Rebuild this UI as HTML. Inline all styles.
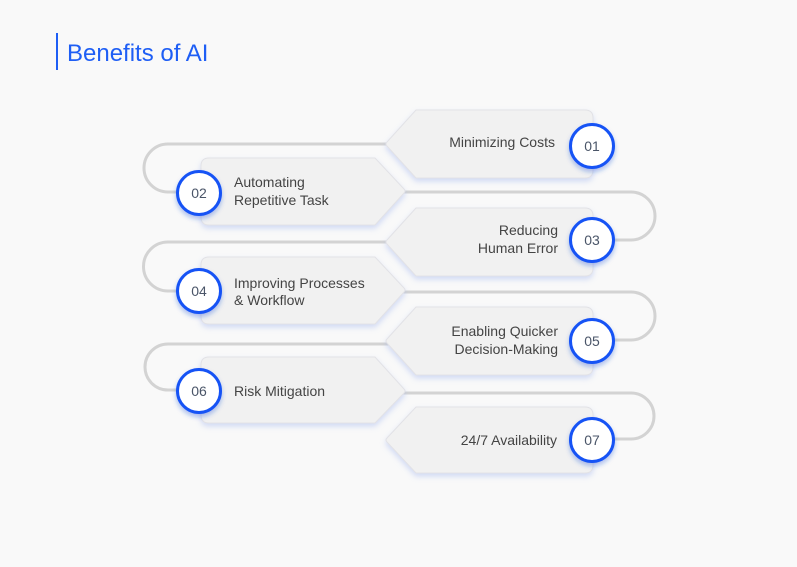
<!DOCTYPE html>
<html><head><meta charset="utf-8"><style>
html,body{margin:0;padding:0;background:#f9f9f9;}
body{width:797px;height:562px;overflow:hidden;font-family:"Liberation Sans",sans-serif;}
</style></head><body>
<svg width="797" height="562" viewBox="0 0 797 562" xmlns="http://www.w3.org/2000/svg" font-family="Liberation Sans, sans-serif">
<defs>
<filter id="sh" x="-20%" y="-20%" width="140%" height="160%"><feDropShadow dx="0" dy="3" stdDeviation="3" flood-color="#9fb4ee" flood-opacity="0.45"/></filter>
<filter id="cs" x="-40%" y="-40%" width="180%" height="180%"><feDropShadow dx="0" dy="3" stdDeviation="2.5" flood-color="#1a4fd8" flood-opacity="0.35"/></filter>
</defs>
<rect x="0" y="0" width="797" height="562" fill="#f9f9f9"/>
<rect x="56" y="33" width="2" height="37" fill="#1e5ef5"/>
<text x="67" y="61" font-size="24" fill="#1e5ef5">Benefits of AI</text>

<g fill="none" stroke="#d3d3d3" stroke-width="3">
<path d="M390 144 H168 A24 24 0 0 0 168 192 H200"/>
<path d="M400 192 H631 A24 24 0 0 1 631 240 H592"/>
<path d="M390 242 H168 A24 24 0 0 0 168 291 H200"/>
<path d="M400 292 H631 A24 24 0 0 1 631 340 H592"/>
<path d="M390 344 H168 A23 23 0 0 0 168 390 H200"/>
<path d="M400 393 H631 A23 23 0 0 1 631 439 H592"/>
</g>

<g fill="#f1f1f1" stroke="#e2e2e6" stroke-width="1" filter="url(#sh)">
<path d="M416 110 H585 Q593 110 593 118 V170 Q593 178 585 178 H416 L387 146 Q385 144 387 142 Z"/>
<path d="M209 158 H375 L404 189 Q406 191 404 193 L375 225 H209 Q201 225 201 217 V166 Q201 158 209 158 Z"/>
<path d="M416 208 H585 Q593 208 593 216 V268 Q593 276 585 276 H416 L387 244 Q385 242 387 240 Z"/>
<path d="M209 257 H375 L404 288 Q406 290 404 292 L375 324 H209 Q201 324 201 316 V265 Q201 257 209 257 Z"/>
<path d="M416 307 H585 Q593 307 593 315 V367 Q593 375 585 375 H416 L387 343 Q385 341 387 339 Z"/>
<path d="M209 357 H375 L404 389 Q406 391 404 393 L375 423 H209 Q201 423 201 415 V365 Q201 357 209 357 Z"/>
<path d="M416 407 H585 Q593 407 593 415 V465 Q593 473 585 473 H416 L387 442 Q385 440 387 438 Z"/>
</g>

<g font-size="14" fill="#444444">
<text x="555" y="147" text-anchor="end">Minimizing Costs</text>
<text x="234" y="187">Automating</text><text x="234" y="205">Repetitive Task</text>
<text x="558" y="235" text-anchor="end">Reducing</text><text x="558" y="253" text-anchor="end">Human Error</text>
<text x="234" y="288">Improving Processes</text><text x="234" y="305">&amp; Workflow</text>
<text x="558" y="336" text-anchor="end">Enabling Quicker</text><text x="558" y="354" text-anchor="end">Decision-Making</text>
<text x="234" y="396">Risk Mitigation</text>
<text x="557" y="445" text-anchor="end">24/7 Availability</text>
</g>

<g fill="#ffffff" stroke="#1652f5" stroke-width="3" filter="url(#cs)">
<circle cx="592" cy="146" r="21.5"/>
<circle cx="199" cy="193" r="21.5"/>
<circle cx="592" cy="240" r="21.5"/>
<circle cx="199" cy="291" r="21.5"/>
<circle cx="592" cy="341" r="21.5"/>
<circle cx="199" cy="391" r="21.5"/>
<circle cx="592" cy="440" r="21.5"/>
</g>
<g font-size="14" fill="#4a5568" text-anchor="middle">
<text x="592" y="151">01</text>
<text x="199" y="198">02</text>
<text x="592" y="245">03</text>
<text x="199" y="296">04</text>
<text x="592" y="346">05</text>
<text x="199" y="396">06</text>
<text x="592" y="445">07</text>
</g>
</svg>
</body></html>
